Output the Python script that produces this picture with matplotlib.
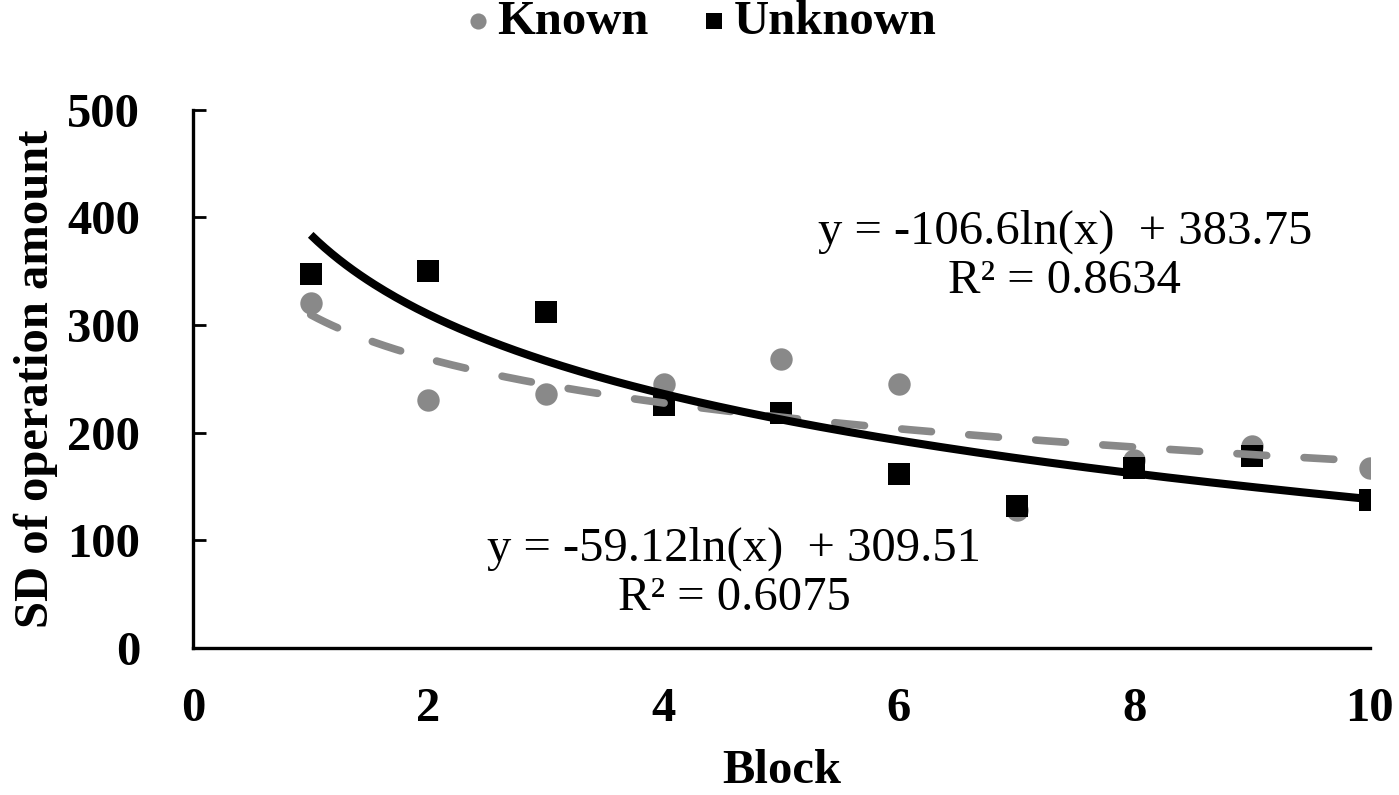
"""SD of operation amount per block, with log trendlines"""
import numpy as np
import matplotlib.pyplot as plt

blocks = [1, 2, 3, 4, 5, 6, 7, 8, 9, 10]
known_sd = [320, 230, 236, 245, 268, 245, 128, 175, 188, 167]
unknown_sd = [347, 350, 312, 226, 218, 162, 132, 167, 178, 137]

# trendline coefficients: y = a*ln(x) + b
known_fit = (-59.12, 309.51, 0.6075)
unknown_fit = (-106.6, 383.75, 0.8634)

GRAY = '#898989'
plt.rcParams['font.family'] = ['Liberation Serif', 'DejaVu Serif']

fig = plt.figure(figsize=(13.99, 7.95), dpi=100)
ax = fig.add_axes([0.138, 0.185, 0.841, 0.677])

ax.scatter(blocks, known_sd, s=260, marker='o', color=GRAY, linewidths=0,
           label='Known', zorder=2)
ax.scatter(blocks, unknown_sd, s=260, marker='s', color='black', linewidths=0,
           label='Unknown', zorder=3)

xs = np.linspace(1, 10, 300)
k_line, = ax.plot(xs, known_fit[0] * np.log(xs) + known_fit[1], color=GRAY,
                  linewidth=5.5, dash_capstyle='round', zorder=4)
k_line.set_dashes([3.9, 4.9])
ax.plot(xs, unknown_fit[0] * np.log(xs) + unknown_fit[1], color='black',
        linewidth=5.8, solid_capstyle='butt', zorder=5)

ax.text(7.41, 364, f'y = {unknown_fit[0]}ln(x)  + {unknown_fit[1]}\nR\u00b2 = {unknown_fit[2]}',
        ha='center', va='center', fontsize=35, linespacing=1.15)
ax.text(4.6, 69, f'y = {known_fit[0]}ln(x)  + {known_fit[1]}\nR\u00b2 = {known_fit[2]}',
        ha='center', va='center', fontsize=35, linespacing=1.15)

ax.set_xlim(0, 10)
ax.set_ylim(0, 500)
ax.set_xticks(range(0, 11, 2))
ax.set_yticks(range(0, 501, 100))
for s in ['top', 'right']:
    ax.spines[s].set_visible(False)
for s in ['left', 'bottom']:
    ax.spines[s].set_linewidth(2.4)
ax.tick_params(axis='y', direction='in', length=9, width=2, pad=38)
ax.tick_params(axis='x', length=0, pad=28)
for lbl in ax.get_xticklabels() + ax.get_yticklabels():
    lbl.set_fontsize(35)
    lbl.set_fontweight('bold')

ax.set_xlabel('Block', fontsize=35, fontweight='bold', labelpad=13)
ax.set_ylabel('SD of operation amount', fontsize=35, fontweight='bold', labelpad=10)
ax.yaxis.set_label_coords(-0.115, 0.5)

fig.legend(loc='upper center', bbox_to_anchor=(0.501, 1.055), ncol=2, frameon=False,
           prop={'size': 35, 'weight': 'bold'}, markerscale=0.72,
           handletextpad=0.15, columnspacing=1.1, handlelength=0.5)

plt.savefig('out.png', dpi=100)
plt.close()
